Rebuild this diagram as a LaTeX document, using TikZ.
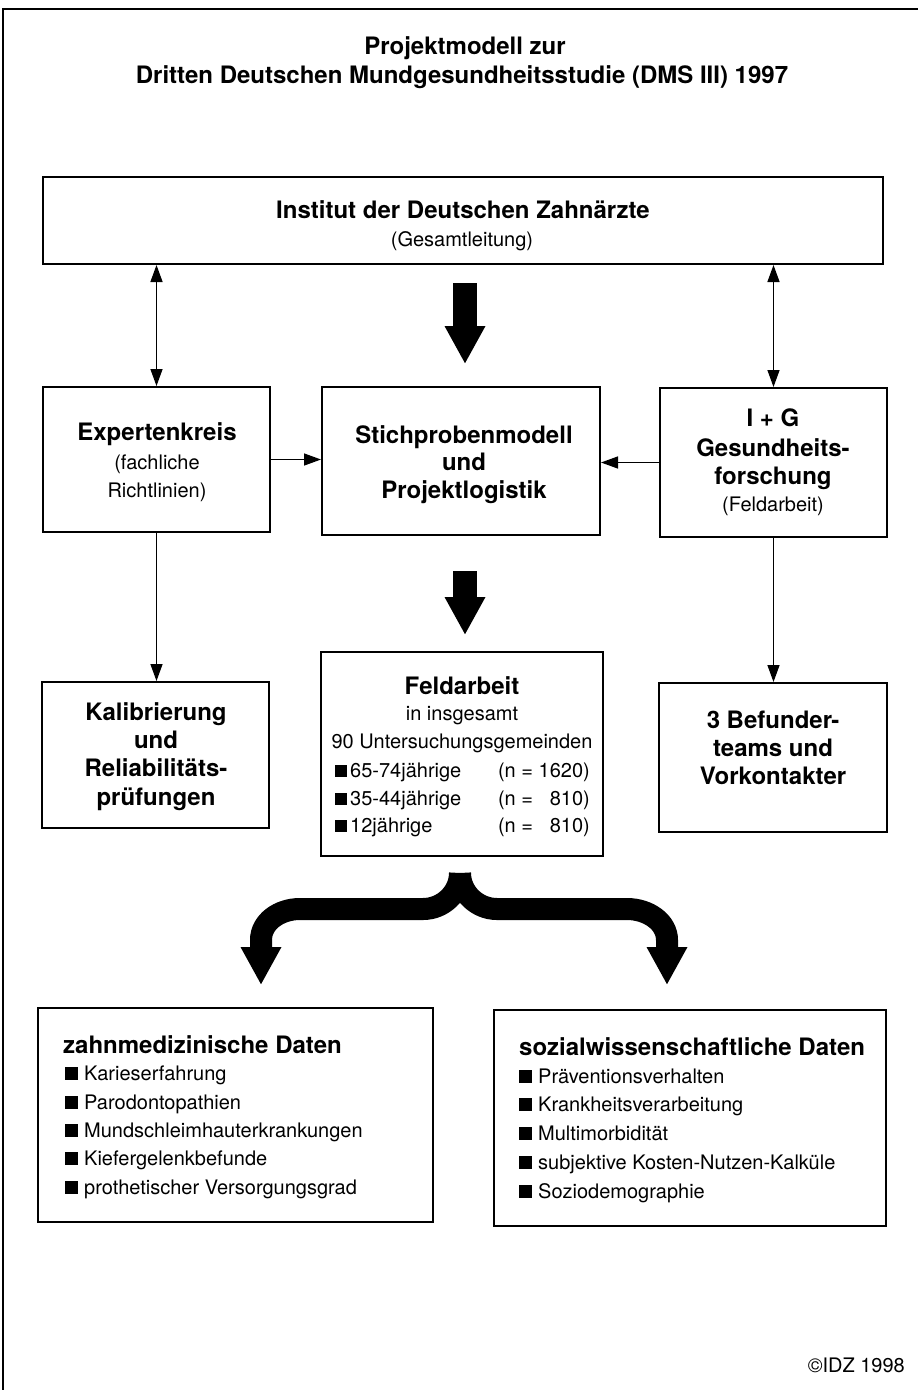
\documentclass[tikz,border=0pt]{standalone}
\usepackage{fontspec}
\setmainfont{TeX Gyre Heros}
\usetikzlibrary{arrows.meta,calc}
\newcommand\sqmark{\rule{13pt}{13pt}\hspace{6pt}}
\newcommand\sqsmall{\rule{12pt}{12pt}\hspace{3pt}}
\begin{document}
\begin{tikzpicture}[x=1pt,y=-1pt,
  box/.style={draw, line width=2pt, rectangle, inner sep=0pt},
  bt/.style={font=\fontsize{24}{28}\selectfont\bfseries, anchor=base, inner sep=0pt},
  rt/.style={font=\fontsize{20}{24}\selectfont, anchor=base, inner sep=0pt},
  btl/.style={font=\fontsize{24}{28}\selectfont\bfseries, anchor=base west, inner sep=0pt},
  rtl/.style={font=\fontsize{20}{24}\selectfont, anchor=base west, inner sep=0pt},
  rtr/.style={font=\fontsize{20}{24}\selectfont, anchor=base east, inner sep=0pt},
  sgl/.style={line width=1.4pt, -{Triangle[length=17pt,width=12pt]}},
  dbl/.style={line width=1.4pt, {Triangle[length=17pt,width=12pt]}-{Triangle[length=17pt,width=12pt]}},
  bigarrow/.style={line width=24pt, -{Triangle[length=38pt,width=38pt]}},
  bracearm/.style={line width=22pt, -{Triangle[length=38pt,width=38pt]}},
]
\useasboundingbox (0,0) rectangle (918,1390);
\fill[white] (0,0) rectangle (918,1390);
% outer frame (top and left edges)
\draw[line width=2pt] (3,1390) -- (3,9) -- (918,9);

% title
\node[bt] (t1) at (465,54) {Projektmodell zur};
\node[bt] (t2) at (462,83) {Dritten Deutschen Mundgesundheitsstudie (DMS III) 1997};

% boxes
\node[box, minimum width=840pt, minimum height=87pt] (inst) at (463,220.5) {};
\node[box, minimum width=227pt, minimum height=145pt] (exp) at (156.5,459.5) {};
\node[box, minimum width=278pt, minimum height=148pt] (stich) at (461,461) {};
\node[box, minimum width=227pt, minimum height=149pt] (ig) at (773.5,462.5) {};
\node[box, minimum width=227pt, minimum height=146pt] (kal) at (155.5,755) {};
\node[box, minimum width=282pt, minimum height=204pt] (feld) at (462,754) {};
\node[box, minimum width=228pt, minimum height=149pt] (bef) at (773,757.5) {};
\node[box, minimum width=395pt, minimum height=214pt] (zahn) at (235.5,1115) {};
\node[box, minimum width=392pt, minimum height=216pt] (sozi) at (690,1118) {};

% texts in boxes
\node[bt] (inst1) at (463,218) {Institut der Deutschen Zahnärzte};
\node[rt] (inst2) at (462,246) {(Gesamtleitung)};

\node[bt] (exp1) at (157,440) {Expertenkreis};
\node[rt] (exp2) at (157,469) {(fachliche};
\node[rt] (exp3) at (157,497) {Richtlinien)};

\node[bt] (st1) at (464,443) {Stichprobenmodell};
\node[bt] (st2) at (464,470) {und};
\node[bt] (st3) at (464,498) {Projektlogistik};

\node[bt] (ig1) at (773,426) {I + G};
\node[bt] (ig2) at (773,456) {Gesundheits-};
\node[bt] (ig3) at (773,484) {forschung};
\node[rt] (ig4) at (773,511) {(Feldarbeit)};

\node[bt] (kal1) at (156,720) {Kalibrierung};
\node[bt] (kal2) at (156,748) {und};
\node[bt] (kal3) at (156,776) {Reliabilitäts-};
\node[bt] (kal4) at (156,805) {prüfungen};

\node[bt] (fe1) at (462,694) {Feldarbeit};
\node[rt] (fe2) at (462,720) {in insgesamt};
\node[rt] (fe3) at (462,748) {90 Untersuchungsgemeinden};
\node[rtl] (fe4) at (335,777) {\sqsmall 65-74jährige};
\node[rtl] (fe5) at (335,805) {\sqsmall 35-44jährige};
\node[rtl] (fe6) at (335,832) {\sqsmall 12jährige};
\node[rtr] (fe4n) at (590,777) {(n = 1620)};
\node[rtr] (fe5n) at (590,805) {(n = \phantom{1}810)};
\node[rtr] (fe6n) at (590,832) {(n = \phantom{1}810)};

\node[bt] (bef1) at (773,728) {3 Befunder-};
\node[bt] (bef2) at (773,756) {teams und};
\node[bt] (bef3) at (773,784) {Vorkontakter};

\node[btl] (z0) at (63,1053) {zahnmedizinische Daten};
\node[rtl] (z1) at (65,1080) {\sqmark Karieserfahrung};
\node[rtl] (z2) at (65,1109) {\sqmark Parodontopathien};
\node[rtl] (z3) at (65,1137) {\sqmark Mundschleimhauterkrankungen};
\node[rtl] (z4) at (65,1165) {\sqmark Kiefergelenkbefunde};
\node[rtl] (z5) at (65,1194) {\sqmark prothetischer Versorgungsgrad};

\node[btl] (s0) at (519,1055) {sozialwissenschaftliche Daten};
\node[rtl] (s1) at (519,1083) {\sqmark Präventionsverhalten};
\node[rtl] (s2) at (519,1111) {\sqmark Krankheitsverarbeitung};
\node[rtl] (s3) at (519,1140) {\sqmark Multimorbidität};
\node[rtl] (s4) at (519,1169) {\sqmark subjektive Kosten-Nutzen-Kalküle};
\node[rtl] (s5) at (519,1198) {\sqmark Soziodemographie};

\node[rtr] (copy) at (905,1372) {©IDZ 1998};

% thin connectors
\draw[dbl] (exp.north) -- (exp.north |- inst.south);
\draw[dbl] (ig.north) -- (ig.north |- inst.south);
\draw[sgl] (exp.east) -- (exp.east -| stich.west);
\draw[sgl] (ig.west) -- (ig.west -| stich.east);
\draw[sgl] (exp.south) -- (exp.south |- kal.north);
\draw[sgl] (ig.south) -- (ig.south |- bef.north);

% big arrows
\draw[bigarrow] ([xshift=2pt,yshift=-18pt]inst.south) -- ([xshift=4pt,yshift=22pt]stich.north);
\draw[bigarrow] ([xshift=4pt,yshift=-35pt]stich.south) -- ([xshift=3pt,yshift=16pt]feld.north);

% brace arrow
\coordinate (bs) at ([xshift=-2pt,yshift=-16pt]feld.south);
\coordinate (bl) at (261,985);
\coordinate (br) at (667,985);
\draw[bracearm] (bs) .. controls (460,892.4) and (443.4,909) .. (423,909) -- (300,909)
   .. controls (279,909) and (261,922) .. (261,940) -- (bl);
\draw[bracearm] (bs) .. controls (460,892.4) and (476.6,909) .. (497,909) -- (627,909)
   .. controls (648,909) and (667,922) .. (667,940) -- (br);
\end{tikzpicture}
\end{document}
